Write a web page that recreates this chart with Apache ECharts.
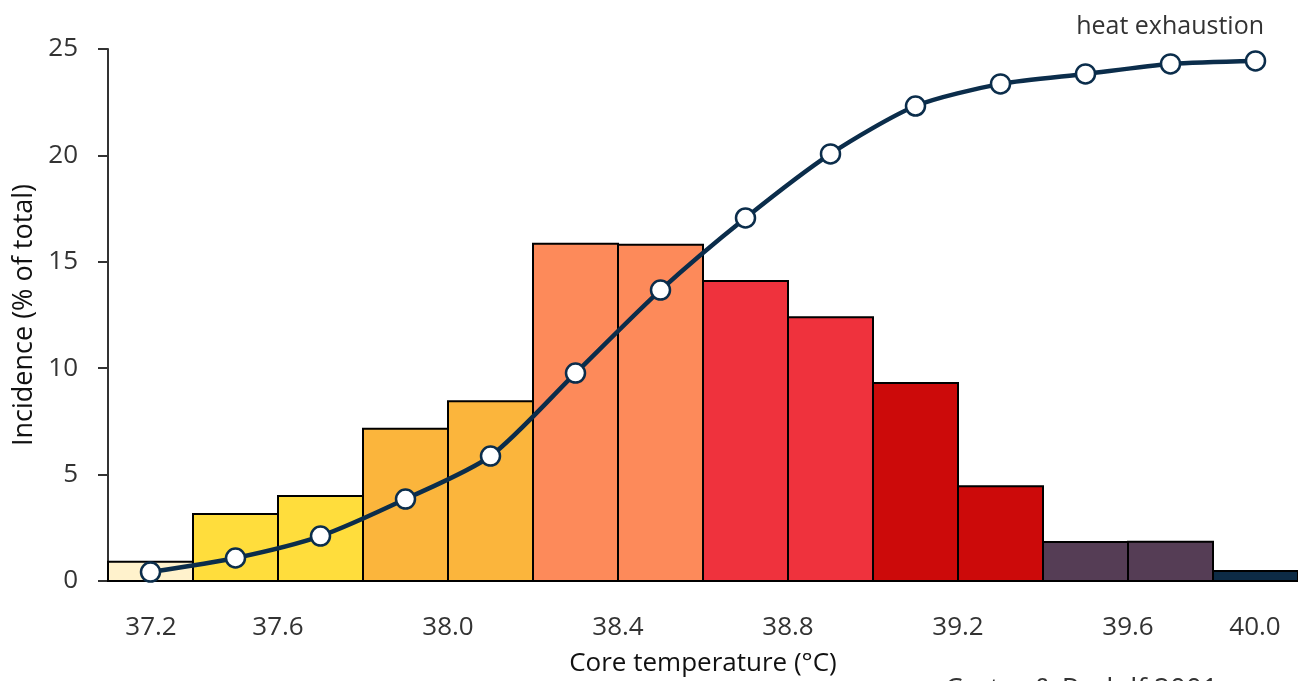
<!DOCTYPE html>
<html>
<head>
<meta charset="utf-8">
<script src="https://cdn.jsdelivr.net/npm/echarts@6/dist/echarts.min.js"></script>
<style>html,body{margin:0;padding:0;background:#fff}#c{width:1298px;height:681px}</style>
</head>
<body>
<div id="c"></div>
<script>
// Histogram bins (lower edge, °C), bin width 0.2
const binStarts = [37.2, 37.4, 37.6, 37.8, 38.0, 38.2, 38.4, 38.6, 38.8, 39.0, 39.2, 39.4, 39.6, 39.8];
const binWidth = 0.2;
const incidence = [0.9, 3.15, 4.0, 7.15, 8.45, 15.85, 15.8, 14.1, 12.4, 9.3, 4.45, 1.83, 1.85, 0.47];
const binColors = ['#FFF2CC', '#FFDD3C', '#FFDD3C', '#FBB53C', '#FBB53C', '#FD8A5A', '#FD8A5A',
                   '#EF323D', '#EF323D', '#CC0A0A', '#CC0A0A', '#553D55', '#553D55', '#0D2B45'];
// Cumulative curve at bin centres
const curveX = [37.3, 37.5, 37.7, 37.9, 38.1, 38.3, 38.5, 38.7, 38.9, 39.1, 39.3, 39.5, 39.7, 39.9];
const curveY = [0.42, 1.08, 2.11, 3.85, 5.87, 9.77, 13.67, 17.06, 20.07, 22.32, 23.36, 23.83, 24.30, 24.44];
const xTicks = [37.2, 37.6, 38.0, 38.4, 38.8, 39.2, 39.6, 40.0];
const yTicks = [0, 5, 10, 15, 20, 25];

const FONT = '"Open Sans", "Noto Sans", sans-serif';
const TXT = '#333333';

const chart = echarts.init(document.getElementById('c'), null, {renderer: 'canvas'});
chart.setOption({
  animation: false,
  textStyle: {fontFamily: FONT},
  grid: {left: 108, right: 0, top: 49, bottom: 100, containLabel: false, outerBoundsMode: 'none'},
  xAxis: {
    type: 'value',
    min: xTicks[0], max: xTicks[xTicks.length - 1], interval: 0.4,
    axisLine: {show: false},
    axisTick: {show: false},
    splitLine: {show: false},
    axisLabel: {
      showMinLabel: true, showMaxLabel: true,
      hideOverlap: false,
      margin: 34,
      color: TXT, fontSize: 26, fontFamily: FONT,
      formatter: function (v) {
        const s = v.toFixed(1);
        if (Math.abs(v - xTicks[0]) < 1e-6) return '{l|' + s + '}';
        if (Math.abs(v - xTicks[xTicks.length - 1]) < 1e-6) return '{r|' + s + '}';
        return s;
      },
      rich: {
        l: {padding: [0, 0, 0, 86], fontSize: 26, color: TXT, fontFamily: FONT},
        r: {padding: [0, 86, 0, 0], fontSize: 26, color: TXT, fontFamily: FONT}
      }
    },
    name: 'Core temperature (°C)',
    nameLocation: 'middle',
    nameGap: 70,
    nameTextStyle: {color: '#111', fontSize: 26, fontFamily: FONT}
  },
  yAxis: {
    type: 'value',
    min: yTicks[0], max: yTicks[yTicks.length - 1], interval: 5,
    axisLine: {show: true, lineStyle: {color: '#333', width: 2}},
    axisTick: {show: true, length: 10, lineStyle: {color: '#333', width: 2}},
    splitLine: {show: false},
    axisLabel: {margin: 30, color: TXT, fontSize: 26, fontFamily: FONT},
    name: 'Incidence (% of total)',
    nameLocation: 'middle',
    nameGap: 70,
    nameTextStyle: {color: '#111', fontSize: 27, fontFamily: FONT}
  },
  series: [
    {
      type: 'custom',
      z: 2,
      data: binStarts.map((s, i) => [s, s + binWidth, incidence[i], i]),
      encode: {x: [0, 1], y: 2},
      renderItem: function (params, api) {
        const p0 = api.coord([api.value(0), api.value(2)]);
        const p1 = api.coord([api.value(1), 0]);
        const idx = api.value(3);
        return {
          type: 'rect',
          shape: {x: p0[0], y: p0[1], width: p1[0] - p0[0], height: p1[1] - p0[1]},
          style: {fill: binColors[idx], stroke: '#000', lineWidth: 2}
        };
      }
    },
    {
      type: 'line',
      z: 5,
      data: curveX.map((x, i) => [x, curveY[i]]),
      smooth: 0.25,
      symbol: 'circle',
      symbolSize: 19,
      lineStyle: {color: '#0B2D4B', width: 4.5},
      itemStyle: {color: '#FFFFFF', borderColor: '#0B2D4B', borderWidth: 2.5}
    }
  ],
  graphic: [
    {
      type: 'text', right: 34, top: 14,
      style: {text: 'heat exhaustion', fill: TXT, font: '25px ' + FONT}
    },
    {
      type: 'text', left: 945, top: 676,
      style: {text: 'Carter & Rudolf 2001', fill: TXT, font: '28px ' + FONT}
    }
  ]
});
</script>
</body>
</html>
